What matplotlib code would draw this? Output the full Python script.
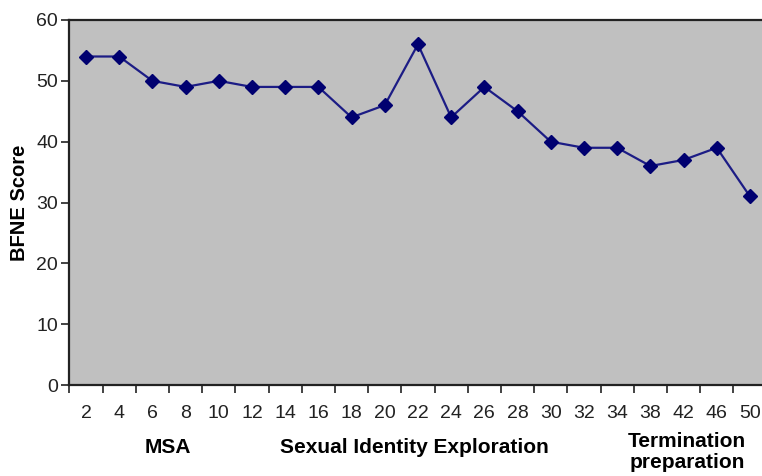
import numpy as np
import matplotlib
matplotlib.use("Agg")
import matplotlib.pyplot as plt
import matplotlib.transforms as mtransforms

plt.rcParams['font.family'] = ['Liberation Sans', 'DejaVu Sans']

# session numbers and BFNE scores
sessions = ['2', '4', '6', '8', '10', '12', '14', '16', '18', '20', '22',
            '24', '26', '28', '30', '32', '34', '38', '42', '46', '50']
scores = [54, 54, 50, 49, 50, 49, 49, 49, 44, 46, 56,
          44, 49, 45, 40, 39, 39, 36, 37, 39, 31]
phases = ['MSA', 'Sexual Identity Exploration', 'Termination\npreparation']

fig = plt.figure(figsize=(7.62, 4.76), dpi=100)
ax = fig.add_axes([0.091, 0.191, 0.915, 0.767])
ax.set_facecolor('#c0c0c0')

x = np.arange(len(sessions))
ax.plot(x, scores, color='#1c1c85', lw=1.6, marker='D', ms=7,
        mfc='#000070', mec='#000070')

ax.set_xlim(-0.5, len(sessions) - 0.5)
ax.set_ylim(0, 60)
ax.set_yticks(np.arange(0, 61, 10))
ax.set_xticks(x)
ax.set_xticklabels(sessions)
ax.set_xticks(np.arange(-0.5, len(sessions), 1), minor=True)
ax.tick_params(axis='x', which='major', length=0, pad=14, labelsize=14, colors='#222222')
ax.tick_params(axis='x', which='minor', length=6, width=1.2, direction='out', color='#222222')
ax.tick_params(axis='y', length=6, width=1.2, labelsize=14, colors='#222222', pad=2)

for s in ax.spines.values():
    s.set_color('#222222')
    s.set_linewidth(1.6)

ax.set_ylabel('BFNE Score', fontsize=14.5, fontweight='bold', labelpad=5)

trans = mtransforms.blended_transform_factory(ax.transData, ax.transAxes)
ax.text(2.47, -0.17, phases[0], transform=trans, ha='center', va='center',
        fontsize=15, fontweight='bold')
ax.text(9.9, -0.17, phases[1], transform=trans, ha='center', va='center',
        fontsize=15, fontweight='bold')
ax.text(18.1, -0.184, phases[2], transform=trans, ha='center', va='center',
        fontsize=15, fontweight='bold', linespacing=1.15)

fig.savefig('out.png', dpi=100)
